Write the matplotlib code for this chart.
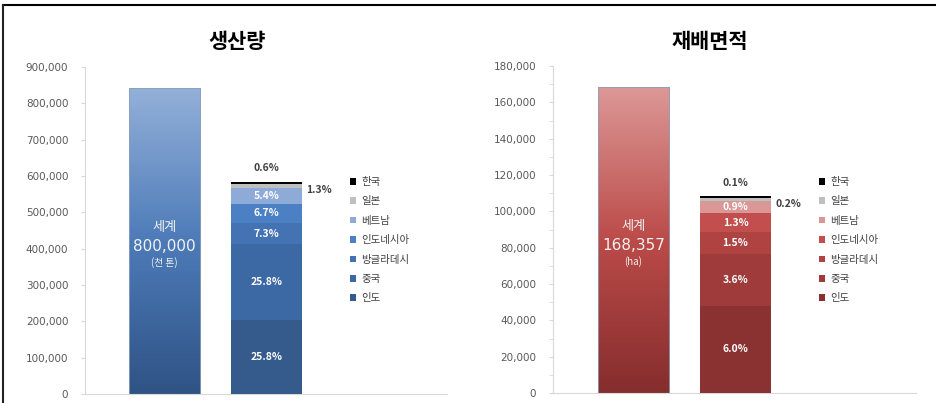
import matplotlib
matplotlib.use("Agg")
import matplotlib.pyplot as plt
import numpy as np
from matplotlib.lines import Line2D
from matplotlib.colors import LinearSegmentedColormap
from matplotlib.patches import Patch
from matplotlib.ticker import FuncFormatter, MultipleLocator

plt.rcParams['font.family'] = ['Noto Sans CJK KR', 'DejaVu Sans']

# ---------------- data ----------------
countries = ['인도', '중국', '방글라데시', '인도네시아', '베트남', '일본', '한국']

prod_values = [205000, 207000, 58000, 54000, 43000, 10500, 5000]
prod_pct = ['25.8%', '25.8%', '7.3%', '6.7%', '5.4%', '1.3%', '0.6%']
world_prod = 842000
world_prod_label = '800,000'
world_prod_unit = '(천 톤)'

area_values = [47900, 28600, 12100, 10500, 6700, 1600, 800]
area_pct = ['6.0%', '3.6%', '1.5%', '1.3%', '0.9%', '0.2%', '0.1%']
world_area = 168357
world_area_label = '168,357'
world_area_unit = '(ha)'

titles = ['생산량', '재배면적']
world_name = '세계'

# ---------------- styles ----------------
blue_colors = ['#355b8c', '#3c69a4', '#4373b3', '#4b80c4', '#8eabd8', '#bfbfbf', '#000000']
red_colors = ['#8a3231', '#9f3c3b', '#ae4342', '#c24f4d', '#d99795', '#bfbfbf', '#000000']
blue_grad = LinearSegmentedColormap.from_list('bg', ['#2f5385', '#4d7bb8', '#93b0d9'])
red_grad = LinearSegmentedColormap.from_list('rg', ['#852d2d', '#bb4b49', '#dc9896'])

W, H = 937, 403
fig = plt.figure(figsize=(W / 100, H / 100), dpi=100)

def fx(px):
    return px / W

def fy(py):
    return 1 - py / H

ax1 = fig.add_axes([fx(85), fy(394), fx(447) - fx(85), fy(67) - fy(394)])
ax2 = fig.add_axes([fx(553), fy(393), fx(916) - fx(553), fy(66) - fy(393)])

bar_w = 0.70
xw, xs = 0.0, 1.0

def draw_panel(ax, values, pcts, colors, world, world_lab, unit, grad, ymax, step, minor,
               legend_x, legend_y, xlim):
    ax.set_xlim(*xlim)
    ax.set_ylim(0, ymax)
    # world bar with gradient
    rect = ax.bar([xw], [world], width=bar_w, color='none', edgecolor='#8aa0b8',
                  linewidth=0.6, zorder=3)[0]
    grad_arr = np.linspace(0, 1, 256).reshape(-1, 1)
    im = ax.imshow(grad_arr, cmap=grad, origin='lower', aspect='auto',
                   extent=[xw - bar_w / 2, xw + bar_w / 2, 0, world], zorder=2)
    im.set_clip_path(rect)
    ax.set_xlim(*xlim)
    ax.set_ylim(0, ymax)

    bottoms = np.concatenate([[0], np.cumsum(values)[:-1]])
    handles = []
    for i, (v, b, c, p, name) in enumerate(zip(values, bottoms, colors, pcts, countries)):
        ax.bar([xs], [v], bottom=[b], width=bar_w, color=c, linewidth=0, zorder=3)
        handles.append(Patch(facecolor=c, edgecolor='none', label=name))
        if i <= 4:
            ax.text(xs, b + v / 2, p, ha='center', va='center', color='white',
                    fontsize=7.5, fontweight='bold', zorder=5)
    top = float(np.sum(values))
    # 일본 label to the right, 한국 label above
    ax.annotate(pcts[5], xy=(xs + bar_w / 2, bottoms[5] + values[5] / 2),
                xytext=(3, -3), textcoords='offset points', ha='left', va='center',
                fontsize=7.5, fontweight='bold', color='#404040')
    ax.annotate(pcts[6], xy=(xs, top), xytext=(0, 10), textcoords='offset points',
                ha='center', va='center', fontsize=7.5, fontweight='bold', color='#404040')

    # world text
    ax.text(xw, 0.508 * ymax, world_name, ha='center', va='center', color='#f2f2f2',
            fontsize=9.5, zorder=5)
    ax.text(xw, 0.452 * ymax, world_lab, ha='center', va='center', color='#f2f2f2',
            fontsize=11, zorder=5, family=['DejaVu Sans'])
    ax.text(xw, 0.402 * ymax, unit, ha='center', va='center', color='#f2f2f2',
            fontsize=7, zorder=5)

    # axes styling
    for s in ['top', 'right']:
        ax.spines[s].set_visible(False)
    ax.spines['left'].set_color('#d9d9d9')
    ax.spines['bottom'].set_color('#d9d9d9')
    ax.spines['left'].set_linewidth(0.8)
    ax.spines['bottom'].set_linewidth(0.8)
    ax.set_xticks([])
    ax.yaxis.set_major_locator(MultipleLocator(step))
    if minor:
        ax.yaxis.set_minor_locator(MultipleLocator(step / 2))
        ax.tick_params(axis='y', which='minor', length=3, color='#d9d9d9')
    ax.yaxis.set_major_formatter(FuncFormatter(lambda v, p: f'{int(v):,}'))
    ax.tick_params(axis='y', which='major', length=3, color='#d9d9d9', labelsize=7.5,
                   labelcolor='#595959', pad=9)
    for lab in ax.get_yticklabels():
        lab.set_family(['DejaVu Sans'])

    leg = fig.legend(handles=handles[::-1], loc='upper left',
                     bbox_to_anchor=(fx(legend_x), fy(legend_y)), frameon=False,
                     fontsize=7.5, handlelength=0.6, handleheight=0.6, handletextpad=0.5,
                     labelspacing=0.9, borderaxespad=0, borderpad=0)
    for t in leg.get_texts():
        t.set_color('#404040')

draw_panel(ax1, prod_values, prod_pct, blue_colors, world_prod, world_prod_label,
           world_prod_unit, blue_grad, 900000, 100000, False, 350, 177, (-0.78, 2.77))
draw_panel(ax2, area_values, area_pct, red_colors, world_area, world_area_label,
           world_area_unit, red_grad, 180000, 20000, True, 819, 177, (-0.79, 2.77))

fig.text(fx(237), fy(41), titles[0], ha='center', va='center', fontsize=15,
         fontweight='bold', color='#000000')
fig.text(fx(710), fy(41), titles[1], ha='center', va='center', fontsize=15,
         fontweight='bold', color='#000000')

# frame lines
fig.add_artist(Line2D([fx(3), 1], [fy(4.5), fy(4.5)], color='black', linewidth=1.5,
                      transform=fig.transFigure))
fig.add_artist(Line2D([fx(3.5), fx(3.5)], [fy(4.5), 0], color='#222222', linewidth=1.5,
                      transform=fig.transFigure))

fig.savefig('out.png', dpi=100)
